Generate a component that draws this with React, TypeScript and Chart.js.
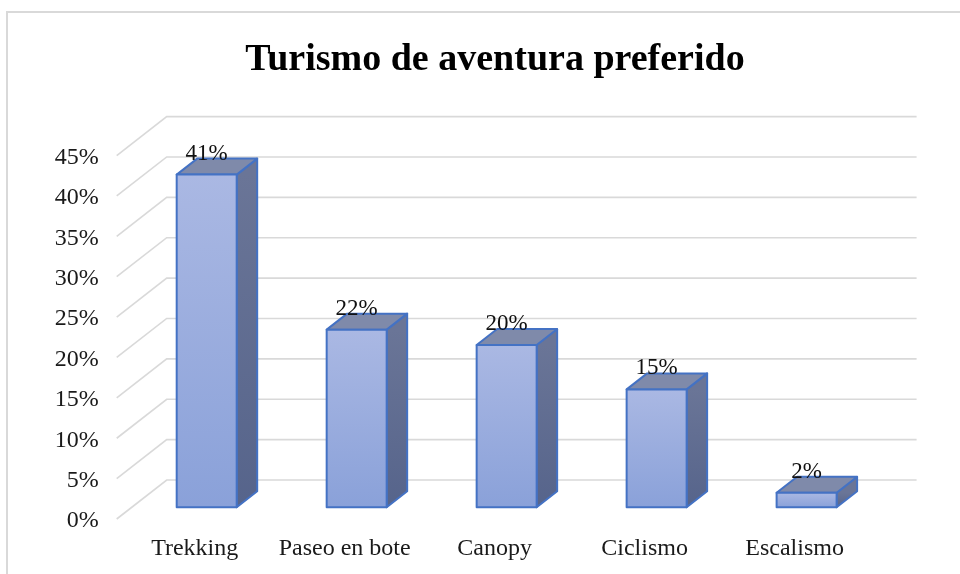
import React, { useEffect, useRef } from 'react';
import { Chart, registerables } from 'chart.js';

Chart.register(...registerables);

// ---- data ----
const chartTitle = 'Turismo de aventura preferido';
const categories = ['Trekking', 'Paseo en bote', 'Canopy', 'Ciclismo', 'Escalismo'];
const values = [41.2, 22, 20.1, 14.6, 1.8];
const valueLabels = ['41%', '22%', '20%', '15%', '2%'];
const yMin = 0;
const yMax = 45;
const yStep = 5;

// ---- styling / 3D geometry ----
const FONT = "'Liberation Serif', 'Times New Roman', serif";
const DEPTH_DX = 50;
const DEPTH_DY = -39;
const BAR_D0 = 0.3;
const BAR_D1 = 0.71;
const GRID = '#d9d9d9';
const EDGE = '#4472c4';

const threeD = {
  id: 'threeD',
  beforeDraw(chart: any) {
    const ctx = chart.ctx;
    ctx.save();
    ctx.fillStyle = '#ffffff';
    ctx.fillRect(0, 0, chart.width, chart.height);
    // outer frame
    ctx.strokeStyle = GRID;
    ctx.lineWidth = 2;
    ctx.beginPath();
    ctx.moveTo(7, chart.height);
    ctx.lineTo(7, 12);
    ctx.lineTo(chart.width, 12);
    ctx.stroke();
    // walls grid
    const ys = chart.scales.y;
    const { left, right } = chart.chartArea;
    ctx.strokeStyle = GRID;
    ctx.lineWidth = 1.6;
    ys.ticks.forEach((t: any) => {
      const y = ys.getPixelForValue(t.value);
      ctx.beginPath();
      ctx.moveTo(left, y);
      ctx.lineTo(left + DEPTH_DX, y + DEPTH_DY);
      ctx.lineTo(right + DEPTH_DX, y + DEPTH_DY);
      ctx.stroke();
    });
    ctx.restore();
  },
  afterDatasetsDraw(chart: any) {
    const ctx = chart.ctx;
    const meta = chart.getDatasetMeta(0);
    const ox0 = BAR_D0 * DEPTH_DX;
    const oy0 = BAR_D0 * DEPTH_DY;
    const ddx = (BAR_D1 - BAR_D0) * DEPTH_DX;
    const ddy = (BAR_D1 - BAR_D0) * DEPTH_DY;
    ctx.save();
    meta.data.forEach((el: any, i: number) => {
      const p = el.getProps(['x', 'y', 'base', 'width'], true);
      const l = p.x - p.width / 2 + ox0;
      const r = p.x + p.width / 2 + ox0;
      const t = p.y + oy0;
      const b = p.base + oy0;
      ctx.lineJoin = 'round';
      ctx.lineWidth = 2;
      ctx.strokeStyle = EDGE;
      // side face
      const sg = ctx.createLinearGradient(0, t, 0, b);
      sg.addColorStop(0, '#6a7597');
      sg.addColorStop(1, '#56648b');
      ctx.fillStyle = sg;
      ctx.beginPath();
      ctx.moveTo(r, t);
      ctx.lineTo(r + ddx, t + ddy);
      ctx.lineTo(r + ddx, b + ddy);
      ctx.lineTo(r, b);
      ctx.closePath();
      ctx.fill();
      ctx.stroke();
      // top face
      ctx.fillStyle = '#7f8aaa';
      ctx.beginPath();
      ctx.moveTo(l, t);
      ctx.lineTo(r, t);
      ctx.lineTo(r + ddx, t + ddy);
      ctx.lineTo(l + ddx, t + ddy);
      ctx.closePath();
      ctx.fill();
      ctx.stroke();
      // front face
      const fg = ctx.createLinearGradient(0, t, 0, b);
      fg.addColorStop(0, '#aab8e3');
      fg.addColorStop(1, '#8aa1d9');
      ctx.fillStyle = fg;
      ctx.beginPath();
      ctx.rect(l, t, r - l, b - t);
      ctx.fill();
      ctx.stroke();
      // value label
      ctx.fillStyle = '#111111';
      ctx.font = `23px ${FONT}`;
      ctx.textAlign = 'center';
      ctx.textBaseline = 'alphabetic';
      ctx.fillText(valueLabels[i], (l + r) / 2, t + ddy + 1);
    });
    ctx.restore();
  },
};

export default function App() {
  const ref = useRef<HTMLCanvasElement>(null);
  useEffect(() => {
    const chart = new Chart(ref.current as HTMLCanvasElement, {
      type: 'bar',
      data: {
        labels: categories,
        datasets: [
          {
            data: values,
            backgroundColor: 'rgba(0,0,0,0)',
            borderWidth: 0,
            barPercentage: 0.4,
            categoryPercentage: 1.0,
          },
        ],
      },
      options: {
        responsive: false,
        animation: false,
        devicePixelRatio: 1,
        layout: { padding: { left: 30, right: 0, top: 12, bottom: 0 } },
        plugins: {
          legend: { display: false },
          tooltip: { enabled: false },
          title: {
            display: true,
            text: chartTitle,
            color: '#000000',
            font: { family: FONT, size: 38, weight: 'bold', lineHeight: 1.2 },
            padding: { top: 25.5, bottom: 72.5 },
          },
        },
        scales: {
          x: {
            grid: { display: false, drawTicks: false },
            border: { display: false },
            ticks: { color: '#1a1a1a', font: { family: FONT, size: 24 }, padding: 15, maxRotation: 0, autoSkip: false, labelOffset: 3 },
            afterFit: (s: any) => { s.height = 55; },
          },
          y: {
            min: yMin,
            max: yMax,
            grid: { display: false, drawTicks: false },
            border: { display: false },
            ticks: {
              stepSize: yStep,
              color: '#1a1a1a',
              font: { family: FONT, size: 24 },
              padding: 18,
              labelOffset: 2,
              callback: (v: any) => `${v}%`,
            },
            afterFit: (s: any) => { s.width = 86.7; },
          },
          y2: {
            position: 'right',
            display: true,
            grid: { display: false, drawTicks: false },
            border: { display: false },
            ticks: { display: false },
            afterFit: (s: any) => { s.width = 93.4; },
          },
        },
      },
      plugins: [threeD],
    } as any);
    return () => chart.destroy();
  }, []);
  return (
    <div style={{ position: 'fixed', left: 0, top: 0, width: 960, height: 574, background: '#fff' }}>
      <canvas ref={ref} width={960} height={574} style={{ display: 'block', width: 960, height: 574 }} />
    </div>
  );
}
